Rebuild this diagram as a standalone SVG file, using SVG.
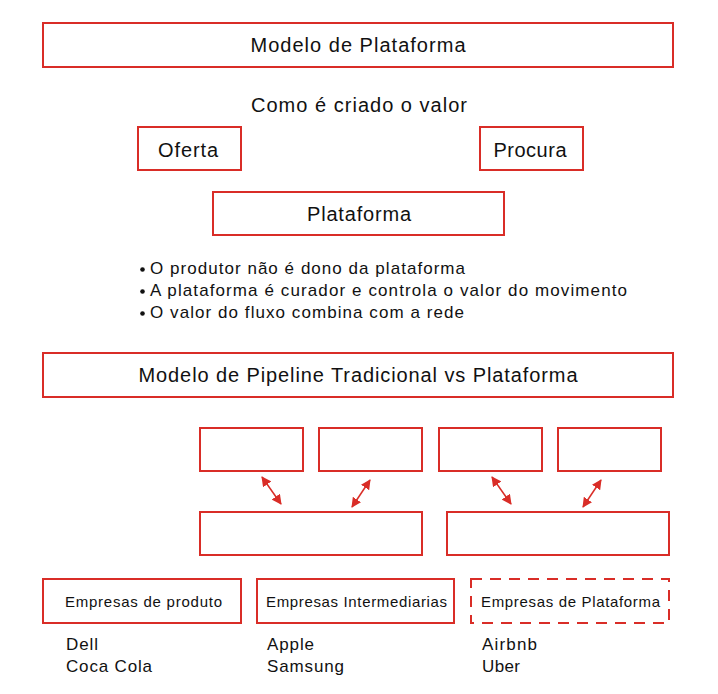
<svg xmlns="http://www.w3.org/2000/svg" width="718" height="694" viewBox="0 0 718 694">
<style>
.box{fill:#fff;stroke:#d92d27;stroke-width:2}
.dash{fill:#fff;stroke:#d92d27;stroke-width:2;stroke-dasharray:11 8}
text{font-family:"Liberation Sans",Arial,sans-serif;fill:#111}
.h{font-size:20px;text-anchor:middle}
.b{font-size:17px}
.s{font-size:15px;text-anchor:middle}
.l{font-size:17px}
.c{stroke:#d92d27;stroke-width:1.5;fill:none;marker-start:url(#ah);marker-end:url(#ah)}
</style>
<defs>
<marker id="ah" viewBox="0 0 10 10" refX="9" refY="5" markerWidth="10" markerHeight="10" orient="auto-start-reverse" markerUnits="userSpaceOnUse">
<path d="M0,0 L10,5 L0,10 z" fill="#d92d27"/>
</marker>
</defs>
<rect width="718" height="694" fill="#fff"/>
<g id="titulo1"><rect class="box" x="43" y="23" width="630" height="44"/><text class="h" x="358" y="52" textLength="215">Modelo de Plataforma</text></g>
<g id="como"><text class="h" x="359" y="112" textLength="216">Como é criado o valor</text></g>
<g id="oferta"><rect class="box" x="138" y="127" width="103" height="43"/><text class="h" x="188" y="157" textLength="60">Oferta</text></g>
<g id="procura"><rect class="box" x="480" y="127" width="103" height="43"/><text class="h" x="530" y="157" textLength="73">Procura</text></g>
<g id="plataforma"><rect class="box" x="213" y="192" width="291" height="43"/><text class="h" x="359" y="221" textLength="104">Plataforma</text></g>
<g id="bullets">
<circle cx="142.5" cy="269.5" r="2.3" fill="#111"/><text class="b" x="150" y="274" textLength="315">O produtor não é dono da plataforma</text>
<circle cx="142.5" cy="291.5" r="2.3" fill="#111"/><text class="b" x="150" y="296" textLength="477">A plataforma é curador e controla o valor do movimento</text>
<circle cx="142.5" cy="313.5" r="2.3" fill="#111"/><text class="b" x="150" y="318" textLength="314">O valor do fluxo combina com a rede</text>
</g>
<g id="titulo2"><rect class="box" x="43" y="353" width="630" height="44"/><text class="h" x="358" y="382" textLength="439">Modelo de Pipeline Tradicional vs Plataforma</text></g>
<g id="n1"><rect class="box" x="200" y="428" width="103" height="43"/></g>
<g id="n2"><rect class="box" x="319" y="428" width="103" height="43"/></g>
<g id="n3"><rect class="box" x="439" y="428" width="103" height="43"/></g>
<g id="n4"><rect class="box" x="558" y="428" width="103" height="43"/></g>
<g id="n5"><rect class="box" x="200" y="512" width="222" height="43"/></g>
<g id="n6"><rect class="box" x="447" y="512" width="222" height="43"/></g>
<g id="connectors">
<line class="c" x1="262" y1="477" x2="281" y2="504"/>
<line class="c" x1="370" y1="480" x2="352" y2="507"/>
<line class="c" x1="492" y1="477" x2="511" y2="504"/>
<line class="c" x1="601" y1="480" x2="583" y2="507"/>
</g>
<g id="produto"><rect class="box" x="43" y="579" width="198" height="44"/><text class="s" x="143.5" y="607" textLength="157">Empresas de produto</text>
<text class="l" x="66" y="650" textLength="32">Dell</text><text class="l" x="66" y="672" textLength="86">Coca Cola</text></g>
<g id="intermediarias"><rect class="box" x="257" y="579" width="197" height="44"/><text class="s" x="356.5" y="607" textLength="181">Empresas Intermediarias</text>
<text class="l" x="267" y="650" textLength="47">Apple</text><text class="l" x="267" y="672" textLength="77">Samsung</text></g>
<g id="plataformas"><rect class="dash" x="471" y="579" width="198" height="44"/><text class="s" x="570.5" y="607" textLength="179">Empresas de Plataforma</text>
<text class="l" x="482" y="650" textLength="55">Airbnb</text><text class="l" x="482" y="672" textLength="38">Uber</text></g>
</svg>
